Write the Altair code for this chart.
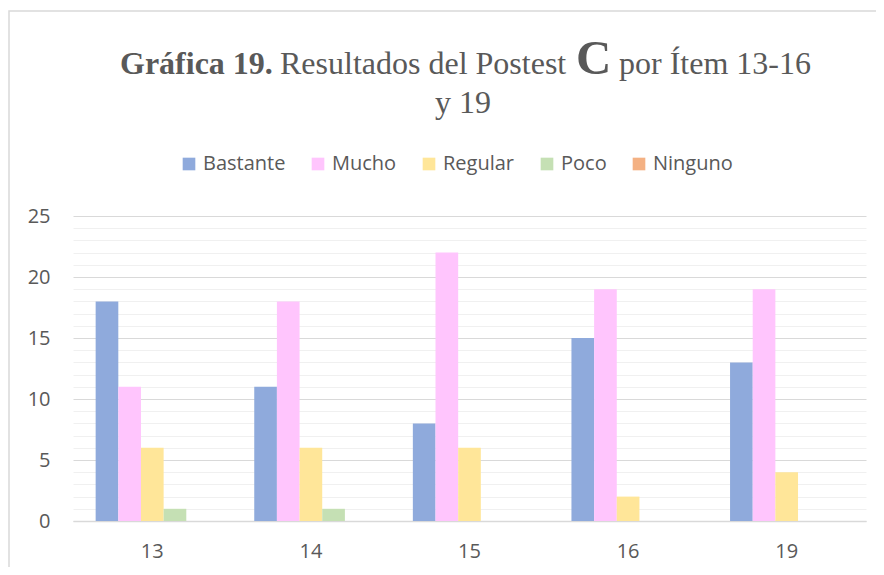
import altair as alt
import pandas as pd

items = ["13", "14", "15", "16", "19"]
series = ["Bastante", "Mucho", "Regular", "Poco", "Ninguno"]
bastante = [18, 11, 8, 15, 13]
mucho = [11, 18, 22, 19, 19]
regular = [6, 6, 6, 2, 4]
poco = [1, 1, 0, 0, 0]
ninguno = [0, 0, 0, 0, 0]
colors = ["#8faadc", "#ffc5fd", "#ffe699", "#c5e0b4", "#f4b183"]
y_ticks = list(range(0, 26))

title_bold = "Gráfica 19."
title_regular = "Resultados del Postest"
title_big = "C"
title_rest = "por Ítem 13-16"
title_line2 = "y 19"

rows = []
for s, vals in zip(series, [bastante, mucho, regular, poco, ninguno]):
    for it, v in zip(items, vals):
        rows.append({"item": it, "serie": s, "valor": v})
df = pd.DataFrame(rows)

TXT = "#595959"
SANS = "Open Sans"
SERIF = "Liberation Serif"

grid_color = alt.condition("datum.value % 5 === 0", alt.value("#d9d9d9"), alt.value("#f0f0f0"))

bars = alt.Chart(df).mark_bar().encode(
    x=alt.X("item:N", sort=items,
            scale=alt.Scale(paddingInner=0.2856, paddingOuter=0.1428),
            axis=alt.Axis(title=None, labelAngle=0, ticks=False, domainColor="#d9d9d9",
                          domainWidth=1.5, labelFont=SANS, labelFontSize=20,
                          labelColor=TXT, labelPadding=20, grid=False)),
    xOffset=alt.XOffset("serie:N", sort=series,
                        scale=alt.Scale(domain=series, paddingInner=0, paddingOuter=0)),
    y=alt.Y("valor:Q", scale=alt.Scale(domain=[0, 25], nice=False),
            axis=alt.Axis(title=None, values=y_ticks,
                          labelExpr="datum.value % 5 === 0 ? datum.label : ''",
                          domain=False, ticks=False, gridColor=grid_color,
                          labelFont=SANS, labelFontSize=20, labelColor=TXT,
                          labelPadding=23)),
    color=alt.Color("serie:N", sort=series,
                    scale=alt.Scale(domain=series, range=colors),
                    legend=alt.Legend(title=None, orient="none", legendX=106, legendY=-62,
                                      direction="horizontal", columns=5, padding=0,
                                      symbolType="square", symbolSize=160,
                                      symbolStrokeWidth=0, labelFont=SANS,
                                      labelFontSize=20, labelColor=TXT,
                                      columnPadding=22, labelOffset=4)),
)

one = alt.Data(values=[{}])

def ttext(txt, x, y, size, bold, align="left"):
    return alt.Chart(one).mark_text(
        align=align, baseline="alphabetic", font=SERIF, fontSize=size,
        fontWeight="bold" if bold else "normal", color=TXT,
    ).encode(x=alt.value(x), y=alt.value(y), text=alt.value(txt))

border = alt.Chart(one).mark_rect(fill=None, stroke="#d9d9d9", strokeWidth=1.5).encode(
    x=alt.value(-64), x2=alt.value(900), y=alt.value(-205), y2=alt.value(400)
)

chart = alt.layer(
    border,
    bars,
    ttext(title_bold, 47, -142, 32, True),
    ttext(title_regular, 207, -142, 32, False),
    ttext(title_big, 503, -142, 49, True),
    ttext(title_rest, 546, -142, 32, False),
    ttext(title_line2, 390, -103, 32, False, "center"),
).properties(
    width=793, height=305,
    autosize=alt.AutoSizeParams(type="none"),
    padding={"left": 65, "top": 208, "right": 10, "bottom": 46},
).configure_view(stroke=None)

chart.save("out.html", embed_options={"renderer": "svg", "actions": False})
